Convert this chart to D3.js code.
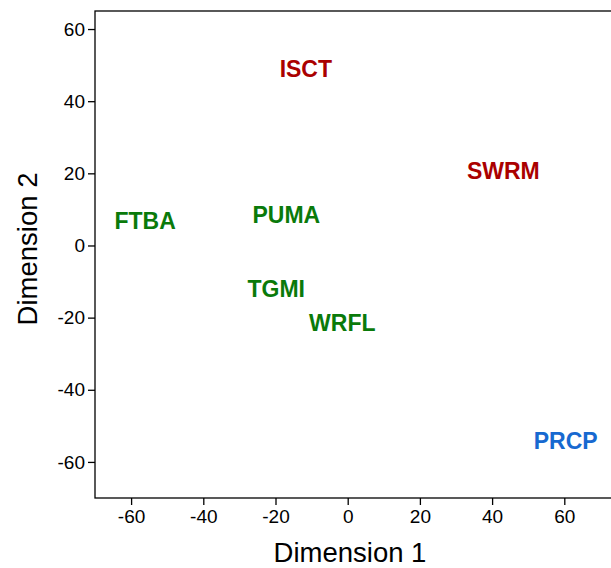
<!DOCTYPE html>
<html>
<head>
<meta charset="utf-8">
<script src="https://cdn.jsdelivr.net/npm/d3@7"></script>
<style>
  body { margin: 0; background: #fff; }
  text { font-family: Arial, "Liberation Sans", sans-serif; }
</style>
</head>
<body>
<svg id="chart" width="611" height="568"></svg>
<script>
// data
var labels = ["ISCT", "SWRM", "FTBA", "PUMA", "TGMI", "WRFL", "PRCP"];
var dim1 = [-11.6, 43.1, -56.1, -17.0, -19.8, -1.5, 60.4];
var dim2 = [48.9, 20.8, 6.8, 8.4, -12.0, -21.5, -54.2];
var groups = ["red", "red", "green", "green", "green", "green", "blue"];
var xTicks = [-60, -40, -20, 0, 20, 40, 60];
var yTicks = [-60, -40, -20, 0, 20, 40, 60];

var groupColor = { red: "#aa0000", green: "#0a7a0a", blue: "#1769d0" };

var svg = d3.select("#chart");
var plotLeft = 95, plotTop = 11, plotBottom = 498, plotRight = 611 + 20;

var x = d3.scaleLinear()
  .domain([-70, -70 + (plotRight - plotLeft) / 3.61])
  .range([plotLeft, plotRight]);
var y = d3.scaleLinear().domain([-70, 65]).range([plotBottom, plotTop]);

// frame (right side runs off the page)
svg.append("rect")
  .attr("x", plotLeft).attr("y", plotTop)
  .attr("width", plotRight - plotLeft).attr("height", plotBottom - plotTop)
  .style("fill", "none").style("stroke", "#000").style("stroke-width", 1.3);

var fmt = function (d) { return String(d); };

var xAxis = svg.append("g")
  .attr("transform", "translate(0," + plotBottom + ")")
  .call(d3.axisBottom(x).tickValues(xTicks).tickFormat(fmt).tickSizeOuter(0).tickSize(7).tickPadding(5));

var yAxis = svg.append("g")
  .attr("transform", "translate(" + plotLeft + ",0)")
  .call(d3.axisLeft(y).tickValues(yTicks).tickFormat(fmt).tickSizeOuter(0).tickSize(7).tickPadding(3));

[xAxis, yAxis].forEach(function (g) {
  g.select(".domain").remove();
  g.selectAll("line").style("stroke", "#000").style("stroke-width", 1.3);
  g.selectAll("text")
    .style("font-size", "19px")
    .style("fill", "#000")
    .style("font-family", "Arial, 'Liberation Sans', sans-serif");
});

svg.append("text")
  .attr("x", 350).attr("y", 562)
  .attr("text-anchor", "middle")
  .style("font-size", "27.5px")
  .text("Dimension 1");

svg.append("text")
  .attr("transform", "translate(37,249) rotate(-90)")
  .attr("text-anchor", "middle")
  .style("font-size", "27.5px")
  .text("Dimension 2");

svg.selectAll(".pt")
  .data(labels)
  .enter()
  .append("text")
  .attr("class", "pt")
  .attr("x", function (d, i) { return x(dim1[i]); })
  .attr("y", function (d, i) { return y(dim2[i]); })
  .attr("dy", "0.36em")
  .attr("text-anchor", "middle")
  .style("font-size", "23px")
  .style("font-weight", "bold")
  .style("fill", function (d, i) { return groupColor[groups[i]]; })
  .text(function (d) { return d; });
</script>
</body>
</html>
